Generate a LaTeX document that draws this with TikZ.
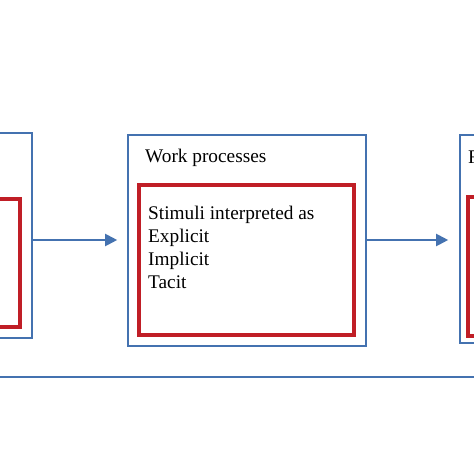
\documentclass[tikz,border=0pt]{standalone}
\usepackage{fontspec}
\setmainfont{Liberation Serif}
\usetikzlibrary{arrows.meta}
\definecolor{bblue}{RGB}{68,114,176}
\definecolor{bred}{RGB}{192,30,38}
\begin{document}
\begin{tikzpicture}[x=1pt,y=-1pt,
  outerbox/.style={draw=bblue,line width=1.6pt,inner sep=0pt},
  innerbox/.style={draw=bred,line width=3.2pt,inner sep=0pt},
  lbl/.style={inner sep=0pt,font=\fontsize{19.3}{22.7}\selectfont,align=left},
  flow/.style={draw=bblue,line width=2pt,-{Triangle[length=12pt,width=12pt]}}]
\useasboundingbox (0,0) rectangle (474,474);
\fill[white] (0,0) rectangle (474,474);
% left box
\node[outerbox,minimum width=52pt,minimum height=205pt] (lo) at (6,235.5) {};
\node[innerbox,minimum width=40pt,minimum height=128pt] (li) at (0,263) {};
% middle box
\node[outerbox,minimum width=238pt,minimum height=211pt] (mo) at (247,240.5) {};
\node[innerbox,minimum width=215pt,minimum height=150pt] (mi) at (246.5,260) {};
\node[lbl,anchor=base west] (mt) at (145,162) {Work processes};
\node[lbl,anchor=base west] (mtx) at (148,288) {Stimuli interpreted as\\Explicit\\Implicit\\Tacit};
% right box
\node[outerbox,minimum width=60pt,minimum height=208pt] (ro) at (490,239) {};
\node[innerbox,minimum width=44pt,minimum height=139pt] (ri) at (490,266.5) {};
\node[lbl,anchor=base west] (rt) at (468,163) {F};
% connectors
\coordinate (ly) at (32,240);
\coordinate (ry) at (366,240);
\draw[flow,shorten >=10pt] (ly) -- (ly -| mo.west);
\draw[flow,shorten >=11pt] (ry) -- (ry -| ro.west);
\coordinate (b1) at (0,377);
\coordinate (b2) at (474,377);
\draw[draw=bblue,line width=2.4pt] (b1) -- (b2);
\end{tikzpicture}
\end{document}
